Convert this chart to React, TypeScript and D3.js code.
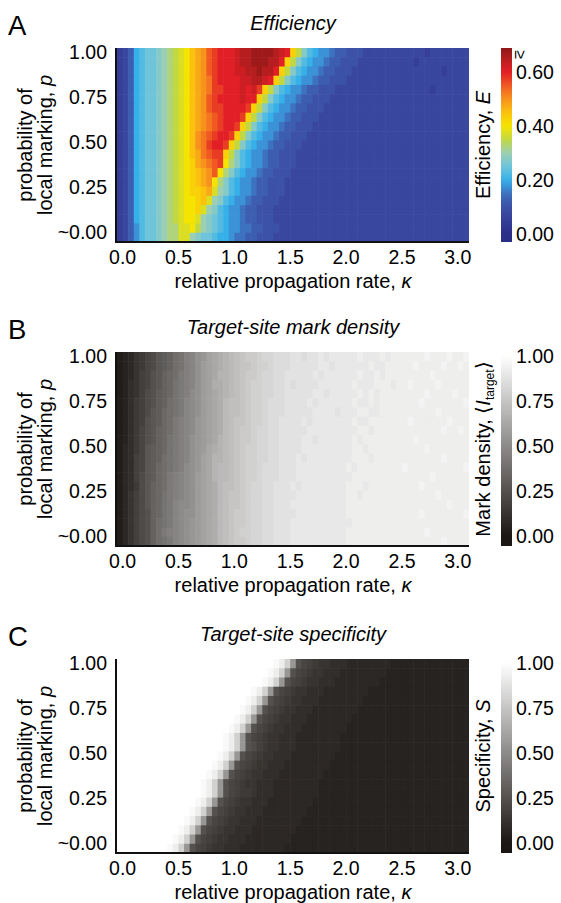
import * as d3 from "d3";

// grid columns (relative propagation rate) and rows (probability of local marking, top row first)
const KAPPA = [
  0, 0.05, 0.1, 0.15, 0.2, 0.25, 0.3, 0.35, 0.4, 0.45, 0.5, 0.55, 0.6, 0.65, 0.7, 0.75,
  0.8, 0.85, 0.9, 0.95, 1, 1.05, 1.1, 1.15, 1.2, 1.25, 1.3, 1.35, 1.4, 1.45, 1.5, 1.55,
  1.6, 1.65, 1.7, 1.75, 1.8, 1.85, 1.9, 1.95, 2, 2.05, 2.1, 2.15, 2.2, 2.25, 2.3, 2.35,
  2.4, 2.45, 2.5, 2.55, 2.6, 2.65, 2.7, 2.75, 2.8, 2.85, 2.9, 2.95, 3, 3.05, 3.1,
];
const P_ROWS = [1, 0.95, 0.9, 0.85, 0.8, 0.75, 0.7, 0.65, 0.6, 0.55, 0.5, 0.45, 0.4, 0.35, 0.3, 0.25, 0.2, 0.15, 0.1, 0.05, 0];

const X_TICKS = [0, 0.5, 1, 1.5, 2, 2.5, 3];
const X_TICK_LABELS = ["0.0", "0.5", "1.0", "1.5", "2.0", "2.5", "3.0"];
const Y_TICKS = [1, 0.75, 0.5, 0.25, 0];
const Y_TICK_LABELS = ["1.00", "0.75", "0.50", "0.25", "~0.00"];
const EFF_TICKS = [0, 0.2, 0.4, 0.6];
const EFF_TICK_LABELS = ["0.00", "0.20", "0.40", "0.60"];
const UNIT_TICKS = [0, 0.25, 0.5, 0.75, 1];
const UNIT_TICK_LABELS = ["0.00", "0.25", "0.50", "0.75", "1.00"];

// one character per cell, value = index in LEVELS * 0.025  ('E' = 1.00)
const LEVELS = "0123456789abcdefghijklmnopqrstuvwxyzABCDE";

// efficiency E
const EFFICIENCY_ROWS = [
  "2 3589aabcde fgijkmnooo pqqrrrrqpo heb9877655 4443333333 3333233333 33",
  "2 3589aabcde fgijkmnooo pqqrrrqqoh eb98776554 4433333333 3323333333 33",
  "2 3589aabcde fgijkmnooo ppqqrqqohe b987765544 4333333333 3333333233 33",
  "2 3589aabcde fgijklnooo oppqqpoheb 9877655444 3333333333 3333333333 33",
  "2 3589aabcde fgijklnnoo opopnheb98 7765544433 3333333333 3333323333 33",
  "2 3589aabcde fgijkmnooo opooheb987 7655444333 3333333333 3333333333 33",
  "2 3589aabcde fgijkmnnoo oonheb9877 6554443333 3333333333 3333333333 33",
  "2 3589aabcde fgijklmnoo onheb98776 5544433333 3333333333 3333333333 33",
  "2 3589aabcde fgijklmnoo nheb987765 5444333333 3333333333 3333333333 33",
  "2 3589aabcde fgiklmnoon heb9877655 4443333333 3333333333 3333333333 33",
  "2 3589aabcde fgiklnoonh eb98776554 4433333333 3333333333 3333333333 33",
  "2 3589aabcde fgijlmnnhe b987765544 4333333333 3333333333 3333333333 33",
  "2 3589aabcde fghjklmngd b987765544 4333333333 3333333333 3333333333 33",
  "2 3589aabcde fghijkmgdb 9877655444 3333333333 3333333333 3333333333 33",
  "2 3589aabcde fghijkgdb9 8776554443 3333333333 3333333333 3333333333 33",
  "2 3589aabcde fghhijfcb9 8776554443 3333333333 3333333333 3333333333 33",
  "2 3589aabcde fgghifcb98 7765544433 3333333333 3333333333 3333333333 33",
  "2 3589aabcde fgghfcb987 7655444333 3333333333 3333333333 3333333333 33",
  "2 3589aabcde fggfcba987 7655444333 3333333333 3333333333 3333333333 33",
  "2 3579aabcdd ffgecba987 7665544433 3333333333 3333333333 3333333333 33",
  "2 3579aabcdd ffcbaa9887 6655444333 3333333333 3333333333 3333333333 33",
];

// target-site mark density
const DENSITY_ROWS = [
  "1 235689bcdf gijlmopqrs tuvvwxxyyy zzyzzAzAAA AABAAABABB BBBBCBBBCB BC",
  "1 235689bcdf gijlnopqrs tuuvwwxyyy zzzzzAAzAA AAAABAABBB BBCBBBBCBB CB",
  "1 23578abdef hijlnoprrs tuvvwxxyyz zzzzAzAAAA AABAABABBB BBBBBCBBBB BB",
  "1 24578abdeg hijlnoqqrs tuvwwxxyyz yzzzzAAAAA ABAAABBBAB BCBBBBCBBB BB",
  "1 24579acdeg hiklnopqrs tuvwwxxyyz zzzzAAzAAA AABABABBBB BBBBCBBBBC BB",
  "1 24679acdfg hjklnopqst tuvwwxyyyz zzzAzAAAAA ABAABABBBB BBBCBBBBBB BC",
  "1 24679bcefg hjklnopqst tuvwwxyyyz zzzzAAAAzA AABBAABBBB BBBBBBCBBB BB",
  "1 2467abcefh ijkmnopqst uuvwwxyyzz zzAzAAAAAA ABAABBBBBB BCBBBBBBCB BB",
  "1 2468abdefh ijkmnopqst uvvwxxyyzz zzzAAAAAAA AABBABBBBB BBBBBBBCBB CB",
  "1 2468abdegh ijlmnoprst uvvwxxyyzz zzAAzAAAAA ABABBBBBBB BBCBBBBBBB BB",
  "1 3468bcdegh ijlmnpqrst uvwwxxyyzz zzAAAAAAAA ABBABBBBBB BBBBCBBBBB BB",
  "1 3478bcdfgh ijlmoprrst uvwwxxyyzz zAzAAAAAAA ABBBABBBBB BBBBBBBCBB BB",
  "1 3478bcefgh iklmoprsst uvwwxyyyzz zAAAAAAAAA BABBBBBBBB CBBBBBBBBB BC",
  "1 3479bcefhi jklnoprsst uvwwxyyyzz zAAAAAAAAA ABBBBBBBBB BBBBBCBBBB BB",
  "1 3469bdefhi jklnopqstt uvwxxyyzzz AzAAAAAAAA BBBABBBBBB BBBCBBBBBB BB",
  "1 3579bdeghi jklnopqstu uvwxxyyzzz zAAAAAAAAA BBABBBBBBB BBBBBBCBBB BB",
  "1 3579bdeghj kklnopqstu uvwxxyyzzz AAAAAAAAAA BBBBBBBBBB BBBBBBBBCB BB",
  "1 3579adeghj kllnopqstu vvwxxyyzzz zAAAAAAAAA BBBBBBBBBB BBBCBBBBBB BC",
  "1 3579adfghj klmnopqstu vvwxxyyzzz AAAAAAAAAA ABBBBBBBBB BBBBBBBBBB BB",
  "1 3579adfhij klmnopqstu vwwxxyyzzz AAAAAAAAAA BBBBBBBBBB BBBBCBBBBB BB",
  "1 3579adfghj klmnopqstu vvwxxyyzzz AAAAAAAAAA BBBBBBBBBB BBBBBBBCBB BB",
];

// target-site specificity
const SPECIFICITY_ROWS = [
  "E EEEEEEEEEE EEEEEEEEEE EEEEEEEDBw ma87655444 3333333322 2222222222 22",
  "E EEEEEEEEEE EEEEEEEEEE EEEEEEDBwm a876554443 3333333222 2222222222 22",
  "E EEEEEEEEEE EEEEEEEEEE EEEEEDBwma 8765544433 3333332222 2222222222 22",
  "E EEEEEEEEEE EEEEEEEEEE EEEDBwma87 6554443333 3333222222 2222222222 22",
  "E EEEEEEEEEE EEEEEEEEEE EEDBwma876 5544433333 3332222222 2222222222 22",
  "E EEEEEEEEEE EEEEEEEEEE EDBwma8765 5444333333 3322222222 2222222222 22",
  "E EEEEEEEEEE EEEEEEEEEE DBwma87655 4443333333 3222222222 2222222222 22",
  "E EEEEEEEEEE EEEEEEEEED Bwma876554 4433333333 2222222222 2222222222 22",
  "E EEEEEEEEEE EEEEEEEEDB wma8765544 4333333332 2222222222 2222222222 22",
  "E EEEEEEEEEE EEEEEEEEDB wma9765544 4333333332 2222222222 2222222222 22",
  "E EEEEEEEEEE EEEEEEEDBw ma87655444 3333333322 2222222222 2222222222 22",
  "E EEEEEEEEEE EEEEEEDBwm a876554443 3333333222 2222222222 2222222222 22",
  "E EEEEEEEEEE EEEEEDBwma 8765544433 3333332222 2222222222 2222222222 22",
  "E EEEEEEEEEE EEEEDBwma8 7655444333 3333322222 2222222222 2222222222 22",
  "E EEEEEEEEEE EEEEDBwma8 7665444333 3333322222 2222222222 2222222222 22",
  "E EEEEEEEEEE EEEDBwma87 6554443333 3333222222 2222222222 2222222222 22",
  "E EEEEEEEEEE EEDBwma876 5544433333 3332222222 2222222222 2222222222 22",
  "E EEEEEEEEEE EDBwma8765 5444333333 3322222222 2222222222 2222222222 22",
  "E EEEEEEEEEE DBwma87655 4443333333 3222222222 2222222222 2222222222 22",
  "E EEEEEEEEED Bwma876554 4433333333 2222222222 2222222222 2222222222 22",
  "E EEEEEEEEDB wma8765544 4333333332 2222222222 2222222222 2222222222 22",
];

const decode = (rows: string[]) =>
  rows.map((r) => r.replace(/ /g, "").split("").map((c) => LEVELS.indexOf(c) * 0.025));

const FONT = "'Liberation Sans', Arial, Helvetica, sans-serif";
const W = 561, H = 903;
const HM = { left: 117, right: 469, top: 48, bottom: 242 };
const CB = { left: 501, right: 512 };
const OFFSETS = [0, 304, 611];

const jet = d3
  .scaleLinear<string>()
  .domain([0, 0.075, 0.125, 0.15, 0.175, 0.2, 0.25, 0.3, 0.35, 0.4, 0.45, 0.5, 0.55, 0.6, 0.65, 0.7])
  .range(["#2b2e87", "#3a479f", "#3d5db1", "#3d72c0", "#3b92d6", "#36b0e8", "#6fc4dc", "#9ccfb4",
    "#c2d843", "#f4e400", "#fbc10e", "#f7921d", "#f05a22", "#e21f26", "#b51d1f", "#861515"])
  .clamp(true);
const gray = (v: number) => d3.interpolateRgb("#1b1714", "#ffffff")(Math.max(0, Math.min(1, v)));

const xBand = d3.scaleBand<number>().domain(KAPPA).range([HM.left, HM.right]);
const yBand = d3.scaleBand<number>().domain(P_ROWS).range([HM.top, HM.bottom]);
const xAxis = d3.scaleLinear().domain([-0.05, 3.1]).range([HM.left, HM.right]);
const yAxis = d3.scaleLinear().domain([0, 1]).range([231.7, 51.7]);

type PanelProps = {
  idx: number;
  letter: string;
  title: string;
  grid: number[][];
  color: (v: number) => string;
  cbScale: d3.ScaleLinear<number, number>;
  cbTicks: number[];
  cbLabels: string[];
  cbLabel: React.ReactNode;
  ge?: boolean;
};

function Panel({ idx, letter, title, grid, color, cbScale, cbTicks, cbLabels, cbLabel, ge }: PanelProps) {
  const off = OFFSETS[idx];
  const cy = (HM.top + HM.bottom) / 2 + off;
  const cx = (HM.left + HM.right) / 2;
  const clipId = `clip${idx}`;
  const gradId = `grad${idx}`;
  const stops = d3.range(0, 41).map((i) => {
    const y = HM.bottom - (i / 40) * (HM.bottom - HM.top);
    return { o: i / 40, c: color(cbScale.invert(y)) };
  });
  return (
    <g>
      <defs>
        <clipPath id={clipId}>
          <rect x={HM.left} y={HM.top + off} width={HM.right - HM.left} height={HM.bottom - HM.top} />
        </clipPath>
        <linearGradient id={gradId} x1="0" y1="1" x2="0" y2="0">
          {stops.map((s, i) => (
            <stop key={i} offset={s.o} stopColor={s.c} />
          ))}
        </linearGradient>
      </defs>
      <text x={8} y={35 + off} fontSize={27.5} fontFamily={FONT}>{letter}</text>
      <text x={cx} y={30 + off} fontSize={20} fontStyle="italic" textAnchor="middle" fontFamily={FONT}>{title}</text>
      <g clipPath={`url(#${clipId})`}>
        {grid.map((row, i) =>
          row.map((v, j) => (
            <rect
              key={`${i}-${j}`}
              x={xBand(KAPPA[j])!}
              y={yBand(P_ROWS[i])! + off}
              width={xBand.bandwidth() + 0.6}
              height={yBand.bandwidth() + 0.6}
              fill={color(v)}
            />
          ))
        )}
      </g>
      <line x1={HM.left - 1} x2={HM.left - 1} y1={HM.top + off} y2={HM.bottom + off + 1} stroke="#111" strokeWidth={2} />
      <line x1={HM.left - 2} x2={HM.right} y1={HM.bottom + off} y2={HM.bottom + off} stroke="#111" strokeWidth={2} />
      {Y_TICKS.map((t, i) => (
        <text key={i} x={107} y={yAxis(t) + off} dy="0.35em" textAnchor="end" fontSize={19.5} fontFamily={FONT}>
          {Y_TICK_LABELS[i]}
        </text>
      ))}
      {X_TICKS.map((t, i) => (
        <text key={i} x={xAxis(t)} y={264 + off} textAnchor="middle" fontSize={19.5} fontFamily={FONT}>
          {X_TICK_LABELS[i]}
        </text>
      ))}
      <text x={cx} y={288 + off} textAnchor="middle" fontSize={20} fontFamily={FONT}>
        relative propagation rate, <tspan fontStyle="italic">κ</tspan>
      </text>
      <g transform={`translate(32, ${cy}) rotate(-90)`}>
        <text textAnchor="middle" fontSize={20} fontFamily={FONT}>probability of</text>
      </g>
      <g transform={`translate(52, ${cy}) rotate(-90)`}>
        <text textAnchor="middle" fontSize={20} fontFamily={FONT}>
          local marking, <tspan fontStyle="italic">p</tspan>
        </text>
      </g>
      <g transform={`translate(490, ${cy}) rotate(-90)`}>
        <text textAnchor="middle" fontSize={20} fontFamily={FONT}>{cbLabel}</text>
      </g>
      <rect x={CB.left} y={HM.top + off} width={CB.right - CB.left} height={HM.bottom - HM.top} fill={`url(#${gradId})`} />
      {cbTicks.map((t, i) => (
        <text key={i} x={516} y={cbScale(t) + off} dy="0.35em" fontSize={19.5} fontFamily={FONT}>
          {cbLabels[i]}
        </text>
      ))}
      {ge && (
        <g transform={`translate(521, ${55 + off}) rotate(90)`}>
          <text textAnchor="middle" fontSize={16} fontFamily={FONT} dy="0.35em">≥</text>
        </g>
      )}
    </g>
  );
}

export default function App() {
  const eff = decode(EFFICIENCY_ROWS);
  const den = decode(DENSITY_ROWS);
  const spe = decode(SPECIFICITY_ROWS);
  const effScale = d3.scaleLinear().domain([0, 0.6]).range([234, 72]);
  return (
    <svg width={W} height={H} style={{ position: "absolute", left: 0, top: 0, background: "#fff" }}>
      <Panel
        idx={0}
        letter="A"
        title="Efficiency"
        grid={eff}
        color={(v) => jet(v)}
        cbScale={effScale}
        cbTicks={EFF_TICKS}
        cbLabels={EFF_TICK_LABELS}
        cbLabel={<>Efficiency, <tspan fontStyle="italic">E</tspan></>}
        ge
      />
      <Panel
        idx={1}
        letter="B"
        title="Target-site mark density"
        grid={den}
        color={gray}
        cbScale={yAxis}
        cbTicks={UNIT_TICKS}
        cbLabels={UNIT_TICK_LABELS}
        cbLabel={
          <>
            Mark density, ⟨<tspan fontStyle="italic">I</tspan>
            <tspan fontSize={12} dy={4}>target</tspan>
            <tspan dy={-4}>⟩</tspan>
          </>
        }
      />
      <Panel
        idx={2}
        letter="C"
        title="Target-site specificity"
        grid={spe}
        color={gray}
        cbScale={yAxis}
        cbTicks={UNIT_TICKS}
        cbLabels={UNIT_TICK_LABELS}
        cbLabel={<>Specificity, <tspan fontStyle="italic">S</tspan></>}
      />
    </svg>
  );
}
